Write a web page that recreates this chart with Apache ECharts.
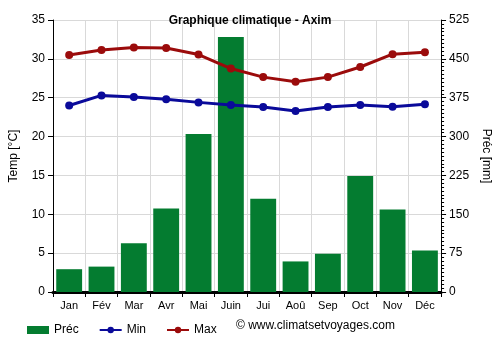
<!DOCTYPE html>
<html><head><meta charset="utf-8">
<script src="https://cdn.jsdelivr.net/npm/echarts@6/dist/echarts.min.js"></script>
<style>html,body{margin:0;padding:0;background:#fff}#c{width:500px;height:350px}</style>
</head><body><div id="c"></div>
<script>
const months = ['Jan','Fév','Mar','Avr','Mai','Juin','Jui','Aoû','Sep','Oct','Nov','Déc'];
const prec = [44, 49, 94, 161, 305, 492, 180, 59, 74, 224, 159, 80];
const tMin = [24.0, 25.3, 25.1, 24.8, 24.4, 24.05, 23.8, 23.3, 23.8, 24.05, 23.85, 24.15];
const tMax = [30.5, 31.15, 31.45, 31.4, 30.55, 28.75, 27.65, 27.05, 27.65, 28.95, 30.6, 30.85];
const tempTicks = [0, 35, 5];
const precTicks = [0, 525, 75];

const font = 'Arial, "Liberation Sans", sans-serif';
const chart = echarts.init(document.getElementById('c'), null, {renderer:'canvas'});
chart.setOption({
  animation:false,
  title:{text:'Graphique climatique - Axim', left:'center', top:10,
    textStyle:{fontFamily:font, fontSize:12, fontWeight:'bold', color:'#000'}},
  grid:{left:49, right:55, top:20, bottom:58},
  legend:{top:319, left:22, itemGap:20, itemWidth:22, itemHeight:8,
    textStyle:{fontFamily:font, fontSize:12, color:'#000'},
    data:[{name:'Préc', icon:'rect'}, {name:'Min'}, {name:'Max'}]},
  graphic:[{type:'text', left:236, top:320,
    style:{text:'© www.climatsetvoyages.com', font:'12px '+font, fill:'#000'}}],
  xAxis:{type:'category', data:months, boundaryGap:true,
    axisLine:{lineStyle:{color:'#000', width:3}},
    axisTick:{show:true, alignWithLabel:false, length:5, lineStyle:{color:'#000'}},
    axisLabel:{fontFamily:font, fontSize:11, color:'#000', margin:8},
    splitLine:{show:true, lineStyle:{color:'#d9d9d9'}}},
  yAxis:[
    {type:'value', min:tempTicks[0], max:tempTicks[1], interval:tempTicks[2],
     name:'Temp [°C]', nameLocation:'middle', nameGap:33, nameRotate:90,
     nameTextStyle:{fontFamily:font, fontSize:12, color:'#000'},
     axisLine:{show:true, lineStyle:{color:'#000'}},
     axisTick:{show:true, length:5, lineStyle:{color:'#000'}},
     axisLabel:{fontFamily:font, fontSize:12, color:'#000'},
     splitLine:{show:true, lineStyle:{color:'#d9d9d9'}}},
    {type:'value', min:precTicks[0], max:precTicks[1], interval:precTicks[2], position:'right',
     name:'Préc [mm]', nameLocation:'middle', nameGap:36, nameRotate:-90,
     nameTextStyle:{fontFamily:font, fontSize:12, color:'#000'},
     axisLine:{show:true, lineStyle:{color:'#000'}},
     axisTick:{show:true, length:5, lineStyle:{color:'#000'}},
     minorTick:{show:true, splitNumber:10, length:3, lineStyle:{color:'#000'}},
     axisLabel:{fontFamily:font, fontSize:12, color:'#000'},
     splitLine:{show:false}}
  ],
  series:[
    {name:'Préc', type:'bar', yAxisIndex:1, data:prec, barCategoryGap:'20%',
     itemStyle:{color:'#047c30'}},
    {name:'Min', type:'line', yAxisIndex:0, data:tMin, symbol:'circle', symbolSize:8,
     lineStyle:{color:'#0a0a9a', width:3}, itemStyle:{color:'#0a0a9a'}},
    {name:'Max', type:'line', yAxisIndex:0, data:tMax, symbol:'circle', symbolSize:8,
     lineStyle:{color:'#9b0b0b', width:3}, itemStyle:{color:'#9b0b0b'}}
  ]
});
</script></body></html>
